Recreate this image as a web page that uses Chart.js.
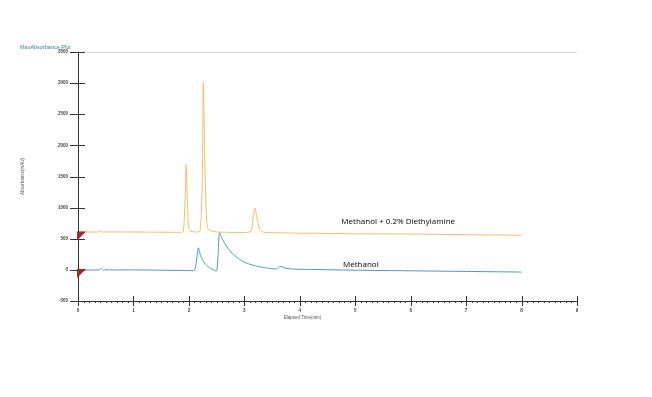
<!DOCTYPE html>
<html>
<head>
<meta charset="utf-8">
<script src="https://cdn.jsdelivr.net/npm/chart.js@4"></script>
<style>
  html, body { margin: 0; padding: 0; background: #fff; }
  #wrap { width: 652px; height: 397px; position: relative; }
</style>
</head>
<body>
<div id="wrap"><canvas id="plot"></canvas></div>
<script>
// elapsed time (min) and absorbance (mAU)
const dieaTime = [0, 0.38, 0.40, 0.42, 0.45, 1.0, 1.5, 1.85, 1.90, 1.93, 1.95, 1.97, 1.99, 2.02, 2.10, 2.20, 2.24, 2.26, 2.29, 2.32, 2.35, 2.45, 2.6, 3.0, 3.12, 3.16, 3.19, 3.23, 3.28, 3.35, 3.6, 4.0, 5.0, 6.0, 7.0, 8.0]
const dieaAbs  = [610, 610, 640, 605, 610, 608, 605, 603, 615, 1100, 1690, 1200, 720, 630, 610, 620, 1400, 3015, 1600, 800, 650, 615, 605, 600, 620, 850, 995, 830, 650, 605, 595, 590, 580, 575, 565, 555]

const methTime = [0, 0.38, 0.42, 0.46, 0.5, 0.55, 1.0, 1.5, 2.0, 2.1, 2.13, 2.17, 2.21, 2.28, 2.35, 2.42, 2.5, 2.53, 2.55, 2.6, 2.7, 2.8, 2.9, 3.0, 3.1, 3.2, 3.3, 3.4, 3.5, 3.58, 3.63, 3.68, 3.75, 3.85, 4.0, 5.0, 6.0, 7.0, 8.0]
const methAbs  = [0, 0, 25, -10, 5, 0, 0, -5, -10, -10, 100, 355, 230, 110, 50, 10, -15, 300, 600, 500, 350, 250, 175, 125, 90, 65, 45, 30, 20, 15, 50, 55, 25, 15, 10, -5, -15, -25, -35]

const xTicks = [0, 1, 2, 3, 4, 5, 6, 7, 8, 9]
const yTicks = [-500, 0, 500, 1000, 1500, 2000, 2500, 3000, 3500]

const seriesNames = ['Methanol + 0.2% Diethylamine', 'Methanol']
const startLevels = [600, 0]   // red start markers on the y axis

const toPoints = (xs, ys) => xs.map((x, i) => ({ x: x, y: ys[i] }))

const extras = {
    id: 'extras',
    afterDraw(chart) {
        const ctx = chart.ctx
        const xs = chart.scales.x
        const ys = chart.scales.y
        const area = chart.chartArea
        ctx.save()

        // light line along the top
        ctx.strokeStyle = '#d8d8d8'
        ctx.lineWidth = 1
        ctx.beginPath()
        ctx.moveTo(area.left + 9, ys.getPixelForValue(3500) + 0.5)
        ctx.lineTo(area.right, ys.getPixelForValue(3500) + 0.5)
        ctx.stroke()

        // axes
        ctx.strokeStyle = '#333'
        ctx.beginPath()
        ctx.moveTo(area.left + 0.5, area.top)
        ctx.lineTo(area.left + 0.5, area.bottom + 3)
        ctx.moveTo(area.left - 8, area.bottom + 0.5)
        ctx.lineTo(area.right, area.bottom + 0.5)
        ctx.stroke()

        // y ticks crossing the axis
        yTicks.forEach(v => {
            const py = Math.round(ys.getPixelForValue(v)) + 0.5
            ctx.beginPath()
            ctx.moveTo(area.left - 8, py)
            ctx.lineTo(area.left + 7, py)
            ctx.stroke()
        })
        // x ticks, major and minor
        for (let i = 0; i <= 90; i++) {
            const px = Math.round(xs.getPixelForValue(i / 10)) + 0.5
            ctx.beginPath()
            if (i % 10 == 0) {
                ctx.moveTo(px, area.bottom - 5)
                ctx.lineTo(px, area.bottom + 5)
            } else {
                ctx.moveTo(px, area.bottom)
                ctx.lineTo(px, area.bottom + 2)
            }
            ctx.stroke()
        }

        // red start markers
        ctx.fillStyle = '#9b2b2f'
        startLevels.forEach(v => {
            const px = xs.getPixelForValue(0)
            const py = ys.getPixelForValue(v)
            ctx.beginPath()
            ctx.moveTo(px - 1, py - 1)
            ctx.lineTo(px + 8, py - 1)
            ctx.lineTo(px - 1, py + 8)
            ctx.closePath()
            ctx.fill()
        })

        // texts
        ctx.fillStyle = '#000'
        ctx.font = '8px "Open Sans"'
        ctx.textBaseline = 'middle'
        ctx.fillText(seriesNames[0], xs.getPixelForValue(4.75), ys.getPixelForValue(775))
        ctx.fillText(seriesNames[1], xs.getPixelForValue(4.78), ys.getPixelForValue(90))

        ctx.fillStyle = '#555'
        ctx.font = '4.5px "Liberation Sans"'
        ctx.textAlign = 'center'
        ctx.fillText('Elapsed Time(min)', xs.getPixelForValue(4.05), area.bottom + 17)

        ctx.fillStyle = '#3f7f86'
        ctx.font = '5.5px "Liberation Sans"'
        ctx.textAlign = 'left'
        ctx.fillText('MaxAbsorbance Plot', 20, ys.getPixelForValue(3500) - 5)
        ctx.restore()
    }
}

const tickFont = { size: 4.5, weight: 'bold', family: 'Liberation Sans' }

new Chart(document.getElementById('plot'), {
    type: 'line',
    data: {
        datasets: [
            {
                label: seriesNames[0],
                data: toPoints(dieaTime, dieaAbs),
                borderColor: '#f2bd6f',
                borderWidth: 1,
                pointRadius: 0,
                tension: 0.2
            },
            {
                label: seriesNames[1],
                data: toPoints(methTime, methAbs),
                borderColor: '#4b9db3',
                borderWidth: 1,
                pointRadius: 0,
                tension: 0.2
            }
        ]
    },
    options: {
        responsive: true,
        maintainAspectRatio: false,
        animation: false,
        layout: { padding: { left: 20, right: 75, top: 52, bottom: 0 } },
        plugins: {
            legend: { display: false },
            tooltip: { enabled: false }
        },
        scales: {
            x: {
                type: 'linear',
                min: 0,
                max: 9,
                afterBuildTicks: s => { s.ticks = xTicks.map(v => ({ value: v })) },
                afterFit: s => { s.height = 96 },
                grid: { display: false, drawTicks: false },
                border: { display: false },
                ticks: { padding: 7, color: '#444', font: tickFont, callback: v => String(v) }
            },
            y: {
                min: -500,
                max: 3500,
                afterBuildTicks: s => { s.ticks = yTicks.map(v => ({ value: v })) },
                afterFit: s => { s.width = 58 },
                grid: { display: false, drawTicks: false },
                border: { display: false },
                title: {
                    display: true,
                    text: 'Absorbance(mAU)',
                    color: '#555',
                    padding: 0,
                    font: { size: 4.5, family: 'Liberation Sans' }
                },
                ticks: { padding: 10, color: '#444', font: tickFont, callback: v => String(v) }
            }
        }
    },
    plugins: [extras]
})
</script>
</body>
</html>
